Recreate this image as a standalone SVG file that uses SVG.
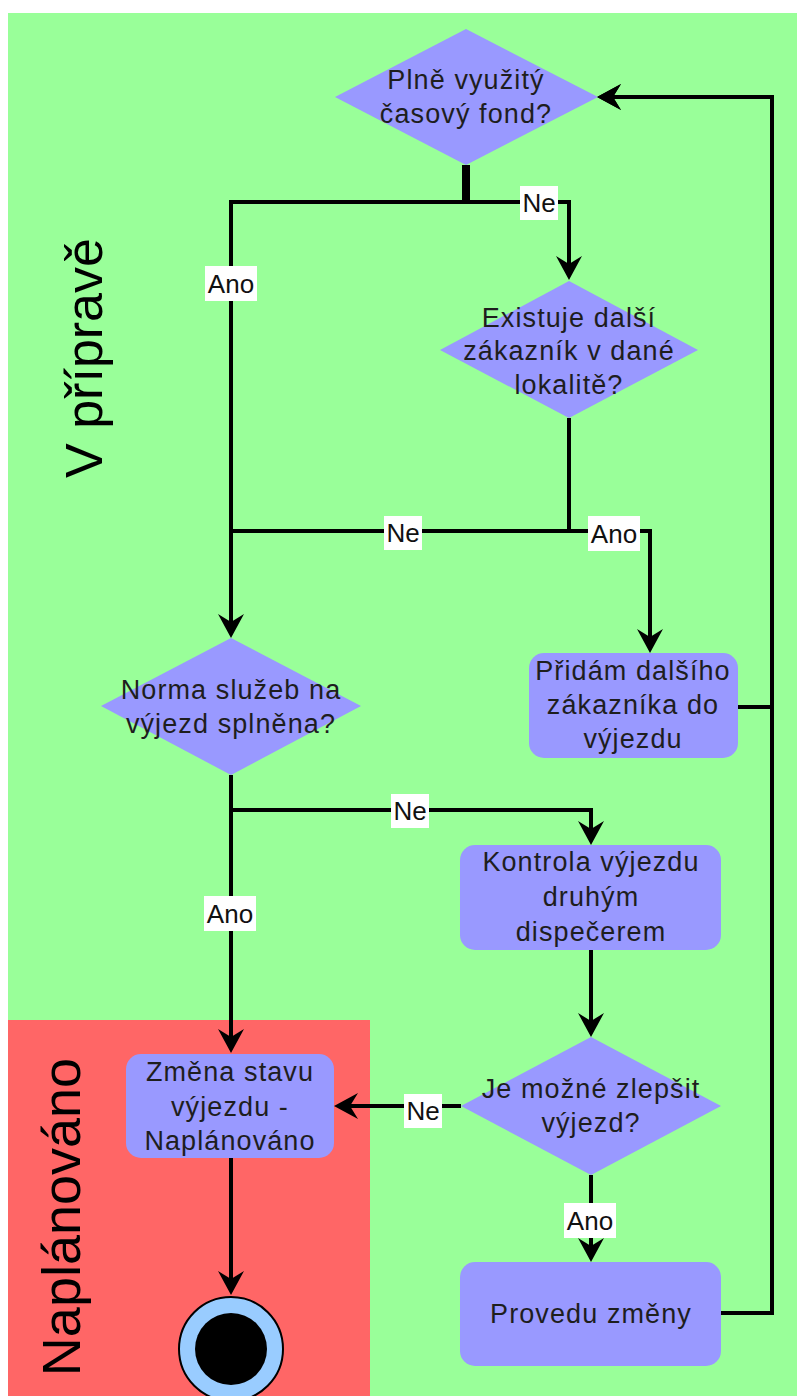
<svg xmlns="http://www.w3.org/2000/svg" width="797" height="1396" viewBox="0 0 797 1396">
  <style>
    .node { fill: #9999FF; stroke: none; }
    .ntext { font-family: "Liberation Sans", Arial, sans-serif; font-size: 27px; fill: #1e1e1e; text-anchor: middle; letter-spacing: 1.1px; }
    .lane { font-family: "Liberation Sans", Arial, sans-serif; fill: #000; text-anchor: middle; }
    .edge { fill: none; stroke: #000; stroke-width: 4; stroke-linejoin: miter; }
    .lblbg { fill: #fff; }
    .lbl { font-family: "Liberation Sans", Arial, sans-serif; font-size: 26px; fill: #111; text-anchor: middle; }
  </style>
  <defs>
    <marker id="arrow" markerUnits="userSpaceOnUse" markerWidth="26" markerHeight="26" refX="20" refY="13" orient="auto" viewBox="0 0 26 26">
      <path d="M0,0 L24,13 L0,26 L8,13 Z" fill="#000"/>
    </marker>
  </defs>

  <!-- swimlanes -->
  <rect width="797" height="1396" fill="#fff"/>
  <rect id="lane-priprava" x="8" y="13" width="789" height="1383" fill="#99FF99"/>
  <rect id="lane-naplanovano" x="8" y="1020" width="362" height="376" fill="#FF6666"/>
  <text class="lane" font-size="52" transform="translate(102,358) rotate(-90)">V přípravě</text>
  <text class="lane" font-size="54" transform="translate(80,1217) rotate(-90)">Naplánováno</text>

  <!-- connectors -->
  <g id="connectors">
    <path class="edge" d="M464,165 V202 H231 V634" marker-end="url(#arrow)"/>
    <path class="edge" d="M468,165 V202 H569 V276" marker-end="url(#arrow)"/>
    <path class="edge" d="M569,418 V531 H231"/>
    <path class="edge" d="M569,418 V531 H650 V649" marker-end="url(#arrow)"/>
    <path class="edge" d="M738,707 H772 V97 H601" marker-end="url(#arrow)"/>
    <path class="edge" d="M721,1313 H772 V97 H601" marker-end="url(#arrow)"/>
    <path class="edge" d="M231,775 V1049" marker-end="url(#arrow)"/>
    <path class="edge" d="M231,775 V810 H591 V841" marker-end="url(#arrow)"/>
    <path class="edge" d="M591,950 V1033" marker-end="url(#arrow)"/>
    <path class="edge" d="M461,1106 H338" marker-end="url(#arrow)"/>
    <path class="edge" d="M591,1175 V1258" marker-end="url(#arrow)"/>
    <path class="edge" d="M231,1158 V1291" stroke-width="3" marker-end="url(#arrow)"/>

    <!-- edge labels -->
    <rect class="lblbg" x="205" y="266" width="52" height="35"/>
    <text class="lbl" x="231" y="293">Ano</text>
    <rect class="lblbg" x="520" y="186" width="38" height="34"/>
    <text class="lbl" x="539" y="212">Ne</text>
    <rect class="lblbg" x="384" y="516" width="38" height="34"/>
    <text class="lbl" x="403" y="542">Ne</text>
    <rect class="lblbg" x="588" y="516" width="52" height="35"/>
    <text class="lbl" x="614" y="543">Ano</text>
    <rect class="lblbg" x="391" y="794" width="38" height="34"/>
    <text class="lbl" x="410" y="820">Ne</text>
    <rect class="lblbg" x="204" y="896" width="52" height="35"/>
    <text class="lbl" x="230" y="923">Ano</text>
    <rect class="lblbg" x="404" y="1094" width="38" height="34"/>
    <text class="lbl" x="423" y="1120">Ne</text>
    <rect class="lblbg" x="564" y="1203" width="52" height="35"/>
    <text class="lbl" x="590" y="1230">Ano</text>
  </g>

  <!-- decisions -->
  <g id="d-casovy-fond">
    <polygon class="node" points="466,29 598,97 466,165 335,97"/>
    <text class="ntext" x="466" y="89">Plně využitý</text>
    <text class="ntext" x="466" y="123">časový fond?</text>
  </g>
  <g id="d-dalsi-zakaznik">
    <polygon class="node" points="569,281 698,350 569,418 440,350"/>
    <text class="ntext" x="569" y="327">Existuje další</text>
    <text class="ntext" x="569" y="360">zákazník v dané</text>
    <text class="ntext" x="569" y="394">lokalitě?</text>
  </g>
  <g id="d-norma">
    <polygon class="node" points="231,638 361,706 231,775 101,706"/>
    <text class="ntext" x="231" y="699">Norma služeb na</text>
    <text class="ntext" x="231" y="733">výjezd splněna?</text>
  </g>
  <g id="d-zlepsit">
    <polygon class="node" points="591,1037 721,1106 591,1175 461,1106"/>
    <text class="ntext" x="591" y="1098">Je možné zlepšit</text>
    <text class="ntext" x="591" y="1132">výjezd?</text>
  </g>

  <!-- actions -->
  <g id="a-pridam">
    <rect class="node" x="529" y="653" width="209" height="105" rx="15"/>
    <text class="ntext" x="633" y="680">Přidám dalšího</text>
    <text class="ntext" x="633" y="714">zákazníka do</text>
    <text class="ntext" x="633" y="748">výjezdu</text>
  </g>
  <g id="a-kontrola">
    <rect class="node" x="460" y="845" width="261" height="105" rx="15"/>
    <text class="ntext" x="591" y="871">Kontrola výjezdu</text>
    <text class="ntext" x="591" y="906">druhým</text>
    <text class="ntext" x="591" y="941">dispečerem</text>
  </g>
  <g id="a-provedu">
    <rect class="node" x="460" y="1262" width="261" height="104" rx="15"/>
    <text class="ntext" x="591" y="1323">Provedu změny</text>
  </g>
  <g id="a-zmena-stavu">
    <rect class="node" x="126" y="1054" width="208" height="104" rx="15"/>
    <text class="ntext" x="230" y="1081">Změna stavu</text>
    <text class="ntext" x="230" y="1116">výjezdu -</text>
    <text class="ntext" x="230" y="1150">Naplánováno</text>
  </g>

  <!-- final state -->
  <g id="end">
    <circle cx="231" cy="1349" r="52" fill="#99CCFF" stroke="#000" stroke-width="2"/>
    <circle cx="231" cy="1349" r="36" fill="#000"/>
  </g>
</svg>
